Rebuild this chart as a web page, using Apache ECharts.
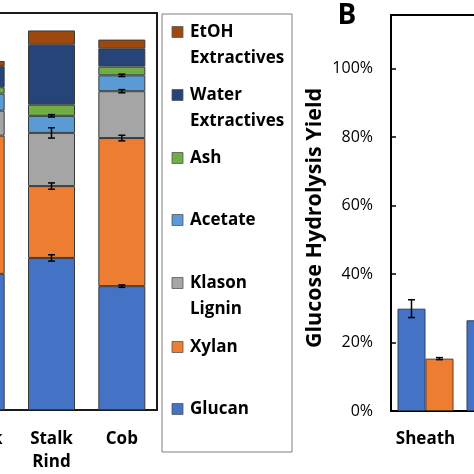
<!DOCTYPE html>
<html><head><meta charset="utf-8">
<script src="https://cdn.jsdelivr.net/npm/echarts@6/dist/echarts.min.js"></script>
<style>html,body{margin:0;padding:0;background:#fff}#c{width:474px;height:474px}</style>
</head><body><div id="c"></div>
<script>
// ---- Panel A: composition (fractions of dry mass) ----
const compCategories = ['Stalk', 'Stalk\nRind', 'Cob'];
const glucan   = [0.343, 0.383, 0.312];
const xylan    = [0.348, 0.181, 0.373];
const lignin   = [0.063, 0.134, 0.118];
const acetate  = [0.043, 0.043, 0.040];
const ash      = [0.016, 0.028, 0.022];
const waterExt = [0.053, 0.151, 0.046];
const etohExt  = [0.013, 0.036, 0.022];
// ± error at top of segment (null = not shown)
const glucanErr  = [null, 0.008, 0.003];
const xylanErr   = [null, 0.008, 0.007];
const ligninErr  = [null, 0.013, 0.004];
const acetateErr = [null, 0.003, 0.003];
const compNames = ['Glucan', 'Xylan', 'Klason\nLignin', 'Acetate', 'Ash', 'Water\nExtractives', 'EtOH\nExtractives'];

// ---- Panel B: glucose hydrolysis yield ----
const yieldCategories = ['Sheath', 'Leaf'];
const yieldBlue    = [0.299, 0.265];
const yieldBlueErr = [0.026, null];
const yieldOrange    = [0.153, null];
const yieldOrangeErr = [0.003, null];
const yieldTicks = [0, 0.2, 0.4, 0.6, 0.8, 1.0];

const colors = ['#4472C4', '#ED7D31', '#A5A5A5', '#5B9BD5', '#70AD47', '#264478', '#9E480E'];
const FONT = '"Open Sans", sans-serif';
const compSeriesData = [glucan, xylan, lignin, acetate, ash, waterExt, etohExt];
const compErrs = [glucanErr, xylanErr, ligninErr, acetateErr];

// cumulative tops for error bars
const errData = [];
compCategories.forEach((c, i) => {
  let cum = 0;
  compSeriesData.forEach((arr, s) => {
    cum += arr[i];
    if (s < compErrs.length && compErrs[s][i] != null) errData.push([i, cum, compErrs[s][i], 0]);
  });
});
const yieldErrData = [];
yieldCategories.forEach((c, i) => {
  if (yieldBlueErr[i] != null) yieldErrData.push([i, yieldBlue[i], yieldBlueErr[i], -1]);
  if (yieldOrangeErr[i] != null) yieldErrData.push([i, yieldOrange[i], yieldOrangeErr[i], 1]);
});

function errRender(params, api) {
  const idx = api.value(0), v = api.value(1), e = api.value(2), side = api.value(3);
  const dx = side * 14;
  const top = api.coord([idx, v + e]);
  const bot = api.coord([idx, v - e]);
  const x = top[0] + dx;
  const st = { stroke: '#000', lineWidth: 1.5 };
  return { type: 'group', children: [
    { type: 'line', shape: { x1: x, y1: top[1], x2: x, y2: bot[1] }, style: st },
    { type: 'line', shape: { x1: x - 3.5, y1: top[1], x2: x + 3.5, y2: top[1] }, style: st },
    { type: 'line', shape: { x1: x - 3.5, y1: bot[1], x2: x + 3.5, y2: bot[1] }, style: st }
  ]};
}

const frame = { show: true, lineStyle: { color: '#1a1a1a', width: 2 } };
const series = compSeriesData.map((arr, s) => ({
  name: compNames[s], type: 'bar', stack: 'comp', xAxisIndex: 0, yAxisIndex: 0,
  data: arr, barWidth: 47, itemStyle: { color: colors[s], borderColor: '#3a3a3a', borderWidth: 1 },
  emphasis: { disabled: true }
}));
series.push({ type: 'custom', xAxisIndex: 0, yAxisIndex: 0, data: errData, renderItem: errRender, z: 10 });
series.push({ name: 'A', type: 'bar', xAxisIndex: 2, yAxisIndex: 1, data: yieldBlue, barWidth: 28, barGap: '0%',
  itemStyle: { color: '#4472C4', borderColor: '#2f3f5f', borderWidth: 1 } });
series.push({ name: 'B', type: 'bar', xAxisIndex: 2, yAxisIndex: 1, data: yieldOrange, barWidth: 28, barGap: '0%',
  itemStyle: { color: '#ED7D31', borderColor: '#5a3a20', borderWidth: 1 } });
series.push({ type: 'custom', xAxisIndex: 2, yAxisIndex: 1, data: yieldErrData, renderItem: errRender, z: 10 });

// legend (drawn as graphic to mimic Excel placement), top to bottom
const legendOrder = [6, 5, 4, 3, 2, 1, 0];
const legendY = [32, 95, 158, 220, 283, 347, 409];
const graphic = [
  { type: 'rect', shape: { x: 162, y: 14, width: 130, height: 438 }, style: { fill: 'none', stroke: '#7f7f7f', lineWidth: 1 } },
  { type: 'text', style: { text: 'B', x: 347, y: 16, align: 'center', verticalAlign: 'middle', font: 'bold 28px ' + FONT, fill: '#000' } }
];
legendOrder.forEach((s, k) => {
  graphic.push({ type: 'rect', shape: { x: 172, y: legendY[k] - 5.5, width: 11, height: 11 },
    style: { fill: colors[s], stroke: '#555', lineWidth: 0.8 } });
  graphic.push({ type: 'text', style: { text: compNames[s], x: 190, y: legendY[k] - 13.25, verticalAlign: 'top',
    font: 'bold 17px ' + FONT, lineHeight: 26.5, fill: '#000' } });
});

const chart = echarts.init(document.getElementById('c'), null, { renderer: 'canvas' });
chart.setOption({
  backgroundColor: '#fff',
  animation: false,
  grid: [
    { left: -54, right: 317, top: 13, bottom: 64, outerBoundsMode: 'none', containLabel: false },
    { left: 391, top: 15, bottom: 63, width: 138, outerBoundsMode: 'none', containLabel: false }
  ],
  xAxis: [
    { gridIndex: 0, type: 'category', data: compCategories, axisLine: frame, axisTick: { show: false },
      axisLabel: { interval: 0, fontFamily: FONT, fontWeight: 'bold', fontSize: 17, color: '#000', lineHeight: 23, margin: 18 } },
    { gridIndex: 0, type: 'category', position: 'top', data: compCategories, axisLine: frame, axisTick: { show: false }, axisLabel: { show: false } },
    { gridIndex: 1, type: 'category', data: yieldCategories, axisLine: { show: true, lineStyle: { color: '#000', width: 2 } }, axisTick: { show: false },
      axisLabel: { interval: 0, fontFamily: FONT, fontWeight: 'bold', fontSize: 17, color: '#000', margin: 20 } },
    { gridIndex: 1, type: 'category', position: 'top', data: yieldCategories, axisLine: { show: true, lineStyle: { color: '#000', width: 2 } }, axisTick: { show: false }, axisLabel: { show: false } }
  ],
  yAxis: [
    { gridIndex: 0, type: 'value', min: 0, max: 1, position: 'right', axisLine: frame, axisTick: { show: false }, axisLabel: { show: false }, splitLine: { show: false } },
    { gridIndex: 1, type: 'value', min: yieldTicks[0], max: 1.157, interval: 0.2,
      axisLine: { show: true, lineStyle: { color: '#000', width: 2 } },
      axisTick: { show: true, inside: true, length: 5, lineStyle: { color: '#000', width: 1.5 } },
      axisLabel: { fontFamily: FONT, fontSize: 16, color: '#000', margin: 18, showMaxLabel: false,
        formatter: v => (yieldTicks.some(t => Math.abs(t - v) < 1e-6) ? Math.round(v * 100) + '%' : '') },
      splitLine: { show: false },
      name: 'Glucose Hydrolysis Yield', nameLocation: 'middle', nameGap: 65,
      nameTextStyle: { fontFamily: FONT, fontWeight: 'bold', fontSize: 21.5, color: '#000', padding: [0, 10, 0, 0] } }
  ],
  series: series,
  graphic: graphic
});
</script></body></html>
